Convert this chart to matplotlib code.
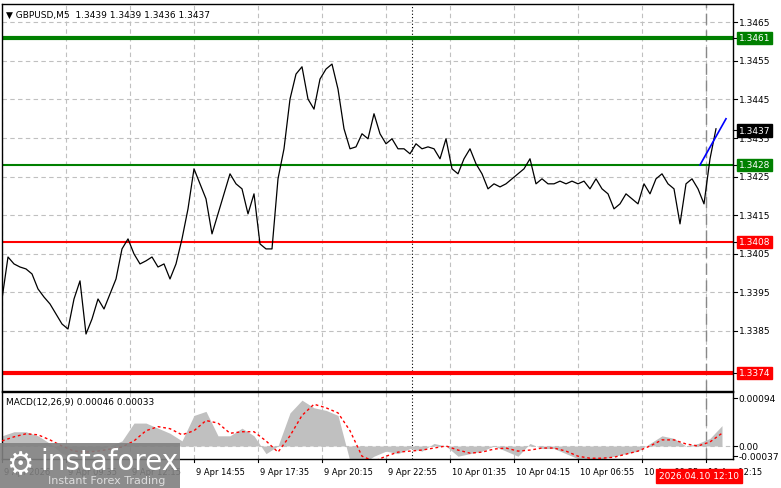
import numpy as np
import matplotlib.pyplot as plt
from matplotlib.patches import Rectangle

# price samples, one every 3 bars (M5)
price = [1.33932, 1.34041, 1.34023, 1.34015, 1.34010, 1.33997, 1.33958, 1.33937, 1.33919, 1.33893,
         1.33867, 1.33854, 1.33932, 1.33979, 1.33841, 1.33880, 1.33932, 1.33906, 1.33945, 1.33984,
         1.34062, 1.34088, 1.34049, 1.34023, 1.34031, 1.34041, 1.34015, 1.34023, 1.33984, 1.34023,
         1.34088, 1.34166, 1.34270, 1.34231, 1.34192, 1.34101, 1.34153, 1.34205, 1.34257, 1.34231,
         1.34218, 1.34153, 1.34205, 1.34075, 1.34062, 1.34062, 1.34244, 1.34322, 1.34451, 1.34516,
         1.34535, 1.34451, 1.34425, 1.34503, 1.34529, 1.34542, 1.34477, 1.34374, 1.34322, 1.34327,
         1.34361, 1.34348, 1.34413, 1.34361, 1.34335, 1.34348, 1.34322, 1.34322, 1.34309, 1.34335,
         1.34322, 1.34327, 1.34322, 1.34296, 1.34348, 1.34270, 1.34257, 1.34296, 1.34322, 1.34283,
         1.34257, 1.34218, 1.34231, 1.34223, 1.34231, 1.34244, 1.34257, 1.34270, 1.34296, 1.34231,
         1.34244, 1.34231, 1.34231, 1.34238, 1.34231, 1.34238, 1.34231, 1.34238, 1.34218, 1.34244,
         1.34218, 1.34205, 1.34166, 1.34179, 1.34205, 1.34192, 1.34179, 1.34231, 1.34205, 1.34244,
         1.34257, 1.34231, 1.34218, 1.34127, 1.34231, 1.34244, 1.34218, 1.34179, 1.34296, 1.34374]

# MACD histogram and signal, one sample every 6 bars
macd_hist = [0.00020, 0.00028, 0.00028, 0.00020, 0.00005, -0.00015, -0.00020, -0.00010, -0.00008, 0.00000,
             0.00010, 0.00045, 0.00045, 0.00035, 0.00025, 0.00010, 0.00060, 0.00068, 0.00020, 0.00020,
             0.00035, 0.00020, -0.00015, 0.00000, 0.00065, 0.00090, 0.00075, 0.00070, 0.00060, -0.00030,
             -0.00035, -0.00020, -0.00010, -0.00015, -0.00005, -0.00010, 0.00005, 0.00000, -0.00020, -0.00015,
             -0.00010, 0.00000, -0.00010, -0.00020, 0.00005, -0.00005, -0.00005, -0.00015, -0.00025, -0.00030,
             -0.00025, -0.00020, -0.00015, -0.00010, 0.00005, 0.00020, 0.00015, 0.00000, 0.00005, 0.00015,
             0.00040]
macd_signal = [0.00010, 0.00018, 0.00024, 0.00022, 0.00012, 0.00000, -0.00010, -0.00012, -0.00010, -0.00006,
               -0.00002, 0.00010, 0.00030, 0.00038, 0.00034, 0.00022, 0.00030, 0.00050, 0.00045, 0.00025,
               0.00028, 0.00028, 0.00010, -0.00012, 0.00020, 0.00060, 0.00082, 0.00075, 0.00065, 0.00030,
               -0.00020, -0.00030, -0.00020, -0.00012, -0.00010, -0.00008, -0.00004, 0.00000, -0.00008, -0.00014,
               -0.00012, -0.00006, -0.00004, -0.00010, -0.00008, -0.00004, -0.00004, -0.00010, -0.00020, -0.00024,
               -0.00024, -0.00022, -0.00016, -0.00010, 0.00000, 0.00012, 0.00012, 0.00004, 0.00000, 0.00008,
               0.00025]

levels = [1.3461, 1.3428, 1.3408, 1.3374]
level_colors = ['#008000', '#008000', '#ff0000', '#ff0000']
level_widths = [3, 1.5, 1.5, 3]
price_ticks = [1.3465, 1.3455, 1.3445, 1.3435, 1.3425, 1.3415, 1.3405, 1.3395, 1.3385]
time_labels = ['9 Apr 2026', '9 Apr 09:35', '9 Apr 12:15', '9 Apr 14:55', '9 Apr 17:35', '9 Apr 20:15',
               '9 Apr 22:55', '10 Apr 01:35', '10 Apr 04:15', '10 Apr 06:55', '10 Apr 09:35', '10 Apr 12:15']

W, H = 781, 489
fig = plt.figure(figsize=(W / 100, H / 100), dpi=100)
plt.rcParams['font.family'] = 'DejaVu Sans'

def box(x0, y0, x1, y1):
    return [x0 / W, 1 - y1 / H, (x1 - x0) / W, (y1 - y0) / H]

ax = fig.add_axes(box(2, 5, 733, 392))
ax2 = fig.add_axes(box(2, 393, 733, 460))
xmax = 365.5
ax.set_xlim(0, xmax)
ax2.set_xlim(0, xmax)
ax.set_ylim(1.33693, 1.34698)
ax2.set_ylim(-0.000255, 0.00106)

grid_bars = np.arange(len(time_labels)) * 32
for a in (ax, ax2):
    for g in grid_bars:
        a.axvline(g, color='#c0c0c0', ls=(0, (4, 3)), lw=0.8, zorder=0)
    a.set_xticks([])
    a.set_yticks([])
    for s in a.spines.values():
        s.set_color('black')
        s.set_linewidth(1)
for t in price_ticks:
    ax.axhline(t, color='#c0c0c0', ls=(0, (4, 3)), lw=0.8, zorder=0)
ax2.axhline(0, color='#c0c0c0', ls=(0, (4, 3)), lw=0.8, zorder=0)

# day separator and current bar line
for a in (ax, ax2):
    a.axvline(205, color='black', ls=(0, (1, 2)), lw=0.8, zorder=1)
    a.axvline(352, color='#888888', ls=(0, (8, 4)), lw=1, zorder=1)

px = np.arange(len(price)) * 3
ax.plot(px, price, color='black', lw=0.9, zorder=3)
for lv, c, w in zip(levels, level_colors, level_widths):
    ax.axhline(lv, color=c, lw=w, zorder=2)
ax.plot([349, 362], [1.3428, 1.3440], color='#0000ff', lw=1.2, zorder=4)

mx = np.arange(len(macd_hist)) * 6
ax2.fill_between(mx, 0, macd_hist, color='#c0c0c0', lw=0, zorder=2)
ax2.plot(mx, macd_signal, color='#ff0000', ls=(0, (2, 2)), lw=1, zorder=3)

# right price scale
def rlabel(a, y, txt, bg=None, fg='black'):
    kw = dict(transform=a.get_yaxis_transform(), fontsize=6.5, va='center', ha='left', color=fg)
    if bg:
        kw['bbox'] = dict(boxstyle='square,pad=0.2', fc=bg, ec=bg)
    a.text(1.008, y, txt, **kw)
    a.plot([1.0, 1.005], [y, y], transform=a.get_yaxis_transform(), color='black', lw=0.8, clip_on=False)

for t in price_ticks:
    rlabel(ax, t, f'{t:.4f}')
for lv, c in zip(levels, level_colors):
    rlabel(ax, lv, f'{lv:.4f}', bg=c, fg='white')
rlabel(ax, 1.3437, '1.3437', bg='black', fg='white')
rlabel(ax2, 0.00094, '0.00094')
rlabel(ax2, 0.0, '0.00')
rlabel(ax2, -0.00020, '-0.00037')

ax.text(0.005, 0.985, '\u25bc GBPUSD,M5  1.3439 1.3439 1.3436 1.3437', transform=ax.transAxes,
        fontsize=6.5, va='top', ha='left')
ax2.text(0.005, 0.93, 'MACD(12,26,9) 0.00046 0.00033', transform=ax2.transAxes,
         fontsize=6.5, va='top', ha='left')

# time labels
for g, lab in zip(grid_bars, time_labels):
    ax2.text(g + 1, -0.12, lab, transform=ax2.get_xaxis_transform(), fontsize=6, va='top', ha='left')
    ax2.plot([g, g], [0, -0.05], transform=ax2.get_xaxis_transform(), color='black', lw=0.8, clip_on=False)
fig.text(699 / W, 1 - 477 / H, '2026.04.10 12:10', fontsize=6.5, color='white', ha='center', va='center',
         zorder=6, bbox=dict(boxstyle='square,pad=0.3', fc='#ff0000', ec='#ff0000'))

# watermark
fig.patches.append(Rectangle((0, 0), 180 / W, 45 / H, transform=fig.transFigure,
                             fc='#808080', ec='none', alpha=0.9, zorder=5))
fig.text(40 / W, 1 - 462 / H, 'instaforex', fontsize=20, color='white', va='center', ha='left', zorder=6)
fig.text(48 / W, 1 - 481 / H, 'Instant Forex Trading', fontsize=8, color='#dddddd', va='center', ha='left', zorder=6)
fig.text(20 / W, 1 - 466 / H, '\u2699', fontsize=22, color='white', va='center', ha='center', zorder=6)

fig.savefig('out.png', dpi=100)
